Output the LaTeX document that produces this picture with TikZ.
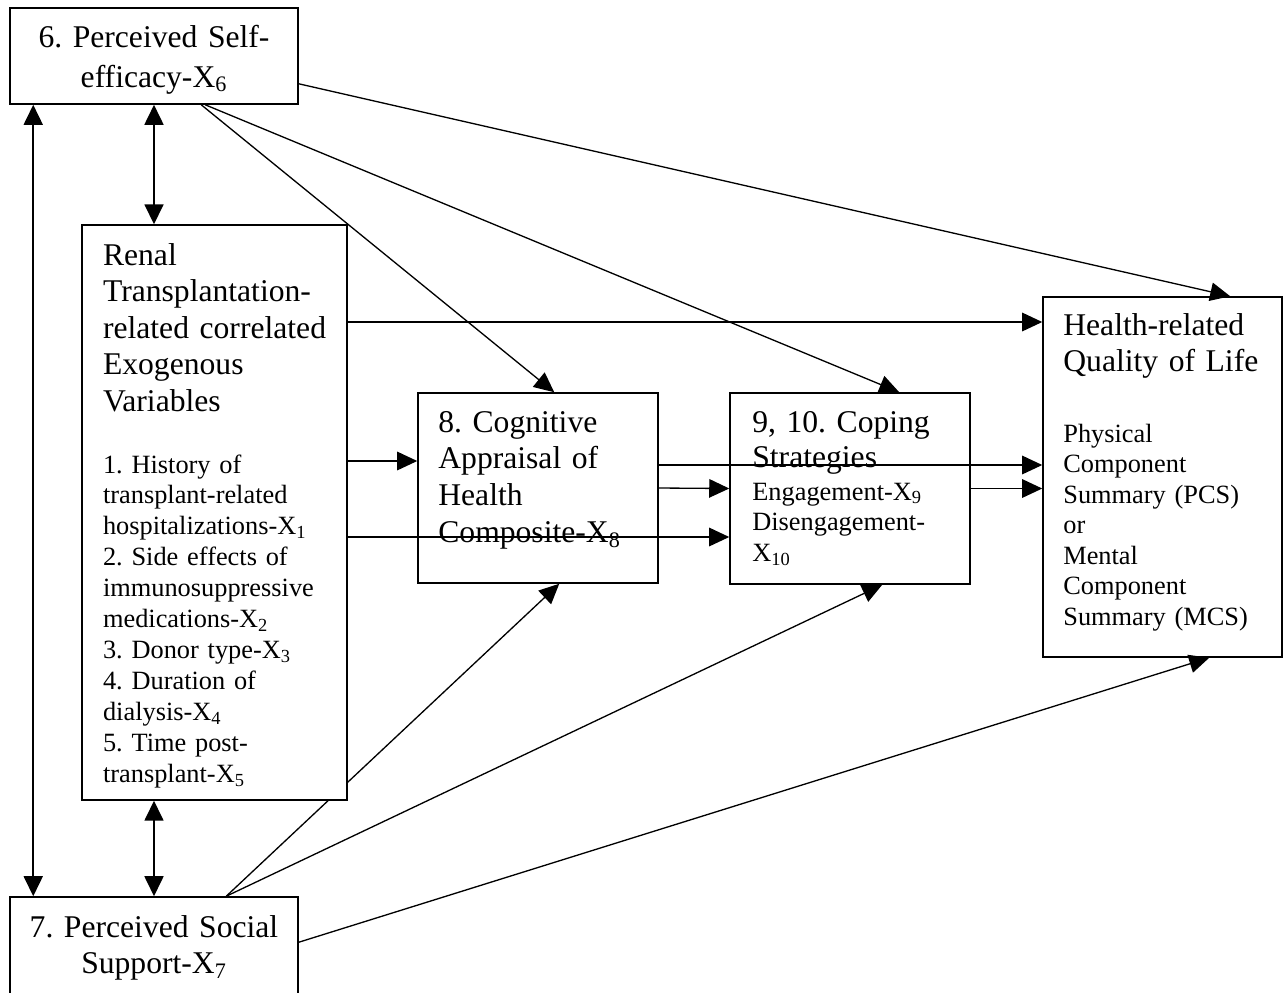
\documentclass[tikz,border=0pt]{standalone}
\usepackage{fontspec}
\setmainfont{Liberation Serif}
\frenchspacing
\usetikzlibrary{arrows.meta,calc,backgrounds}
\tikzset{
  box/.style={draw, fill=white, line width=0.9pt, inner sep=0pt},
  bigtxt/.style={font=\fontsize{18}{20.8}\selectfont, align=left, text width=4.9cm, inner sep=0pt, anchor=base west},
  smalltxt/.style={font=\fontsize{15}{17.6}\selectfont, align=left, text width=4.9cm, inner sep=0pt, anchor=base west},
  arr/.style={-{Triangle[length=0.4cm,width=0.37cm]}, line width=0.75pt},
  dbl/.style={{Triangle[length=0.4cm,width=0.38cm]}-{Triangle[length=0.4cm,width=0.38cm]}, line width=1pt},
}
\begin{document}
\begin{tikzpicture}[x=0.02cm, y=-0.02cm]
  \useasboundingbox (0,0) rectangle (1286,992);

  % boxes
  \node[box, minimum width=5.76cm, minimum height=1.92cm] (se) at (154,56) {};
  \node[box, minimum width=5.3cm, minimum height=11.5cm] (rt) at (214.5,512.5) {};
  \node[box, minimum width=5.76cm, minimum height=2.2cm] (ss) at (154,952) {};
  \node[box, minimum width=4.8cm, minimum height=3.8cm] (ca) at (538,488) {};
  \node[box, minimum width=4.8cm, minimum height=3.82cm] (cs) at (850,488.5) {};
  \node[box, minimum width=4.78cm, minimum height=7.2cm] (hq) at (1162.5,477) {};

  % texts
  \node[bigtxt, align=center, text width=5.6cm, anchor=base, font=\fontsize{18}{22.8}\selectfont] (se-txt) at (154,47)
    {6. Perceived Self-\\efficacy-X\textsubscript{6}};
  \node[bigtxt, align=center, text width=5.6cm, anchor=base] (ss-txt) at (154,937)
    {7. Perceived Social\\Support-X\textsubscript{7}};
  \node[bigtxt] (rt-head) at (102.7,265)
    {Renal\\Transplantation-\\related correlated\\Exogenous\\Variables};
  \node[smalltxt] (rt-list) at (102.7,473)
    {1. History of\\transplant-related\\hospitalizations-X\textsubscript{1}\\2. Side effects of\\immunosuppressive\\medications-X\textsubscript{2}\\3. Donor type-X\textsubscript{3}\\4. Duration of\\dialysis-X\textsubscript{4}\\5. Time post-\\transplant-X\textsubscript{5}};
  \node[bigtxt, font=\fontsize{18}{21}\selectfont] (ca-txt) at (438,432)
    {8. Cognitive\\Appraisal of\\Health\\Composite-X\textsubscript{8}};
  \node[bigtxt, font=\fontsize{18}{20}\selectfont] (cs-head) at (752,432)
    {9, 10. Coping\\Strategies};
  \node[smalltxt] (cs-list) at (752,500)
    {Engagement-X\textsubscript{9}\\Disengagement-\\X\textsubscript{10}};
  \node[bigtxt, font=\fontsize{18}{21}\selectfont] (hq-head) at (1063,335)
    {Health-related\\Quality of Life};
  \node[smalltxt, font=\fontsize{15}{17.4}\selectfont] (hq-list) at (1063,442)
    {Physical\\Component\\Summary (PCS)\\or\\Mental\\Component\\Summary (MCS)};

  % correlations
  \draw[dbl] ($(se.south west)+(24,0)$) -- ($(ss.north west)+(24,0)$);
  \draw[dbl] (se.south) -- (rt.north -| se.south);
  \draw[dbl] (rt.south -| ss.north) -- (ss.north);

  % paths from self-efficacy
  \draw[arr] ($(se.south west)+(192,0)$) -- ($(ca.north west)+(137,0)$);
  \draw[arr] ($(se.south west)+(196,0)$) -- ($(cs.north west)+(170,0)$);
  \draw[arr] ($(se.south east)+(0,-21)$) -- ($(hq.north west)+(188,0)$);

  % paths from exogenous variables
  \draw[arr] (rt.east |- 0,322) -- (hq.west |- 0,322);
  \draw[arr] (rt.east |- 0,461) -- (ca.west |- 0,461);
  \draw[arr] (rt.east |- 0,537) -- (cs.west |- 0,537);

  % mediators
  \draw[arr] (ca.east) -- (cs.west);
  \draw[arr] (ca.east |- 0,465) -- (hq.west |- 0,465);
  \draw[arr] (cs.east) -- (hq.west |- cs.east);

  % paths from social support
  \begin{pgfonlayer}{background}
    \draw[arr] ($(ss.north west)+(217,0)$) -- ($(ca.south west)+(142,0)$);
  \end{pgfonlayer}
  \draw[arr] ($(ss.north west)+(217,0)$) -- ($(cs.south west)+(153,0)$);
  \draw[arr] ($(ss.north east)+(0,46)$) -- ($(hq.south west)+(167,0)$);
\end{tikzpicture}
\end{document}
